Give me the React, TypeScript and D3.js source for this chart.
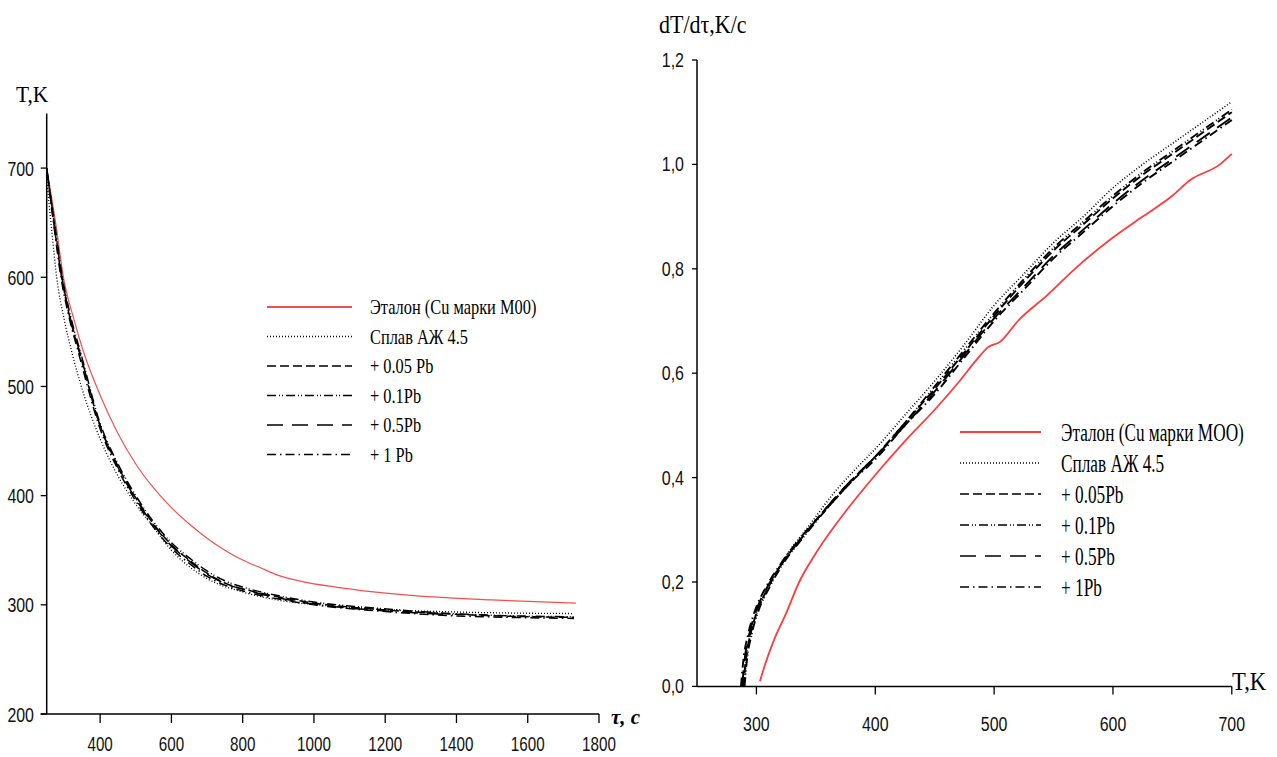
import React from "react";
import * as d3 from "d3";

const W = 1277;
const H = 757;

// ---------- Left chart: cooling curves T(τ) ----------
const tauTicks = [400, 600, 800, 1000, 1200, 1400, 1600, 1800];
const tempTicksLeft = [200, 300, 400, 500, 600, 700];

const coolEtalon: [number, number][] = [
  [250, 700], [275, 650], [297, 600], [325, 563], [353, 532], [400, 492], [450, 457], [500, 429],
  [550, 407], [600, 389], [650, 374], [700, 361], [750, 350], [800, 341], [850, 334], [900, 327],
  [958, 322], [1066, 316], [1282, 308.5], [1498, 304.5], [1735, 301.5],
];
const coolAlloy: [number, number][] = [
  [250, 690], [265, 640], [278, 600], [300, 560], [320, 532], [350, 497], [400, 452], [450, 418],
  [500, 392], [550, 371], [600, 350], [650, 335], [700, 324], [808, 311], [905, 304], [1013, 300],
  [1174, 296], [1390, 293.5], [1550, 292.5], [1730, 292],
];
const coolPb005: [number, number][] = [
  [250, 700], [270, 650], [292, 600], [315, 563], [343, 530], [400, 464], [450, 427], [500, 398],
  [550, 374], [600, 355], [650, 341], [700, 329], [750, 320], [808, 314], [905, 307], [1013, 301],
  [1174, 296], [1390, 291.5], [1550, 289.5], [1730, 288.5],
];
const coolPb01: [number, number][] = [
  [250, 698], [272, 650], [294, 600], [318, 563], [346, 530], [400, 466], [450, 429], [500, 400],
  [550, 376], [600, 357], [650, 343], [700, 331], [750, 322], [808, 315.5], [905, 308], [1013, 302],
  [1174, 297], [1390, 292], [1550, 290], [1730, 289],
];
const coolPb05: [number, number][] = [
  [250, 700], [271, 650], [293, 600], [316, 563], [344, 530], [400, 464], [450, 426], [500, 397],
  [550, 373], [600, 354], [650, 340], [700, 328], [750, 319.5], [808, 313.5], [905, 306], [1013, 300],
  [1174, 295], [1390, 291],
];
const coolPb1: [number, number][] = [
  [250, 697], [269, 650], [290, 600], [313, 563], [340, 530], [400, 461], [450, 424], [500, 395],
  [550, 371], [600, 352], [650, 338], [700, 326], [750, 318], [808, 312], [905, 305], [1013, 299.5],
  [1174, 294.5], [1390, 290], [1550, 288.5], [1730, 287.5],
];

// ---------- Right chart: dT/dτ vs T ----------
const tempTicksRight = [300, 400, 500, 600, 700];
const rateTicks = [0, 0.2, 0.4, 0.6, 0.8, 1.0, 1.2];

const rateEtalon: [number, number][] = [
  [303, 0.01], [307, 0.04], [315, 0.09], [325, 0.14], [336, 0.2], [350, 0.255], [375, 0.335],
  [400, 0.405], [425, 0.47], [450, 0.53], [471, 0.585], [485, 0.625], [495, 0.65], [505, 0.66],
  [520, 0.7], [545, 0.75], [568, 0.8], [600, 0.86], [625, 0.9], [650, 0.94], [665, 0.97],
  [690, 1.0], [700, 1.02],
];
const rateAlloy: [number, number][] = [
  [290, 0.01], [292, 0.06], [296, 0.11], [302, 0.15], [312, 0.2], [325, 0.25], [345, 0.31],
  [365, 0.37], [385, 0.42], [400, 0.455], [425, 0.52], [450, 0.585], [475, 0.655], [500, 0.73],
  [525, 0.79], [550, 0.85], [575, 0.9], [600, 0.955], [625, 1.0], [650, 1.04], [675, 1.08], [700, 1.12],
];
const ratePb005: [number, number][] = [
  [289, 0.0], [291, 0.05], [295, 0.1], [300, 0.14], [310, 0.19], [320, 0.23], [340, 0.29],
  [360, 0.345], [380, 0.395], [400, 0.44], [425, 0.505], [450, 0.57], [475, 0.64], [500, 0.71],
  [525, 0.775], [550, 0.835], [575, 0.885], [600, 0.935], [625, 0.98], [650, 1.02], [675, 1.06], [700, 1.1],
];
const ratePb01: [number, number][] = [
  [290, 0.0], [292, 0.05], [296, 0.1], [301, 0.14], [311, 0.19], [321, 0.23], [341, 0.29],
  [361, 0.345], [381, 0.395], [400, 0.44], [425, 0.505], [450, 0.575], [475, 0.645], [500, 0.715],
  [525, 0.78], [550, 0.84], [575, 0.89], [600, 0.94], [625, 0.985], [650, 1.025], [675, 1.065], [700, 1.105],
];
const ratePb05: [number, number][] = [
  [288, 0.0], [290, 0.05], [294, 0.1], [299, 0.14], [309, 0.19], [320, 0.23], [340, 0.29],
  [360, 0.345], [380, 0.395], [400, 0.44], [425, 0.5], [450, 0.565], [475, 0.635], [500, 0.705],
  [525, 0.765], [550, 0.825], [575, 0.875], [600, 0.925], [625, 0.97], [650, 1.01], [675, 1.05], [700, 1.09],
];
const ratePb1: [number, number][] = [
  [287, 0.0], [289, 0.05], [293, 0.1], [298, 0.14], [308, 0.19], [319, 0.23], [339, 0.29],
  [359, 0.34], [379, 0.39], [400, 0.435], [425, 0.5], [450, 0.56], [475, 0.63], [500, 0.7],
  [525, 0.76], [550, 0.82], [575, 0.87], [600, 0.92], [625, 0.965], [650, 1.005], [675, 1.045], [700, 1.085],
];

// ---------- Legends ----------
const legendLeft = [
  "Эталон (Cu марки М00)",
  "Сплав АЖ 4.5",
  "+ 0.05 Pb",
  "+ 0.1Pb",
  "+ 0.5Pb",
  "+ 1 Pb",
];
const legendRight = [
  "Эталон (Cu марки МОО)",
  "Сплав АЖ 4.5",
  "+ 0.05Pb",
  "+ 0.1Pb",
  "+ 0.5Pb",
  "+ 1Pb",
];

const styles = [
  { color: "#f25050", dash: "", width: 1.3 },
  { color: "#000", dash: "1,2", width: 1.3 },
  { color: "#000", dash: "9,4", width: 1.5 },
  { color: "#000", dash: "9,3,1,2,1,3", width: 1.5 },
  { color: "#000", dash: "16,9", width: 1.5 },
  { color: "#000", dash: "9,4,1.5,4", width: 1.5 },
];

const coolSeries = [coolEtalon, coolAlloy, coolPb005, coolPb01, coolPb05, coolPb1];
const rateSeries = [rateEtalon, rateAlloy, ratePb005, ratePb01, ratePb05, ratePb1];

const numFont = "'Liberation Sans', Arial, sans-serif";
const serif = "'Liberation Serif', 'Times New Roman', serif";

function fmtComma(v: number) {
  return v.toFixed(1).replace(".", ",");
}

export default function App() {
  const xL = d3.scaleLinear().domain([250, 1800]).range([46.7, 599]);
  const yL = d3.scaleLinear().domain([200, 750]).range([714, 113.5]);
  const xR = d3.scaleLinear().domain([250, 700]).range([697, 1231.8]);
  const yR = d3.scaleLinear().domain([0, 1.2]).range([686.4, 60]);

  const lineL = d3
    .line<[number, number]>()
    .x((d) => xL(d[0]))
    .y((d) => yL(d[1]))
    .curve(d3.curveMonotoneX);
  const lineR = d3
    .line<[number, number]>()
    .x((d) => xR(d[0]))
    .y((d) => yR(d[1]))
    .curve(d3.curveMonotoneX);

  const x0L = xL.range()[0];
  const y0L = yL.range()[0];
  const x0R = xR.range()[0];
  const y0R = yR.range()[0];

  return (
    <svg
      width={W}
      height={H}
      style={{ position: "absolute", left: 0, top: 0, background: "#fff" }}
    >
      <rect x={0} y={0} width={W} height={H} fill="#fff" />

      {/* ===== Left chart ===== */}
      <g>
        {coolSeries.map((s, i) => (
          <path
            key={i}
            d={lineL(s) || ""}
            fill="none"
            stroke={styles[i].color}
            strokeWidth={i === 0 ? 1.2 : styles[i].width}
            strokeDasharray={styles[i].dash}
          />
        ))}
        <line x1={x0L} y1={yL(750)} x2={x0L} y2={y0L} stroke="#000" strokeWidth={1.5} />
        <line x1={x0L - 6} y1={y0L} x2={xL(1800)} y2={y0L} stroke="#000" strokeWidth={1.5} />
        {tempTicksLeft.map((t) => (
          <g key={t}>
            <line x1={x0L - 6} x2={x0L} y1={yL(t)} y2={yL(t)} stroke="#000" strokeWidth={1.3} />
            <text
              transform={`translate(34,${yL(t) + 7.5}) scale(0.76,1)`}
              textAnchor="end"
              fontFamily={numFont}
              fontSize={21}
              fill="#111"
            >
              {t}
            </text>
          </g>
        ))}
        {tauTicks.map((t) => (
          <g key={t}>
            <line x1={xL(t)} x2={xL(t)} y1={y0L} y2={y0L + 9} stroke="#000" strokeWidth={1.3} />
            <text
              transform={`translate(${xL(t)},751) scale(0.76,1)`}
              textAnchor="middle"
              fontFamily={numFont}
              fontSize={20}
              fill="#111"
            >
              {t}
            </text>
          </g>
        ))}
        <text
          transform="translate(16,102) scale(0.93,1)"
          fontFamily={serif}
          fontSize={23}
          fill="#000"
        >
          T,K
        </text>
        <text
          x={611}
          y={724}
          fontFamily={serif}
          fontSize={21}
          fontWeight="bold"
          fontStyle="italic"
          fill="#000"
        >
          τ, c
        </text>

        {legendLeft.map((lab, i) => {
          const y = 307 + i * 29.5;
          return (
            <g key={lab}>
              <line
                x1={267}
                x2={352}
                y1={y}
                y2={y}
                stroke={styles[i].color}
                strokeWidth={i === 0 ? 1.8 : 1.5}
                strokeDasharray={styles[i].dash}
              />
              <text
                transform={`translate(370,${y + 7}) scale(0.78,1)`}
                fontFamily={serif}
                fontSize={21}
                fill="#000"
              >
                {lab}
              </text>
            </g>
          );
        })}
      </g>

      {/* ===== Right chart ===== */}
      <g>
        {rateSeries.map((s, i) => (
          <path
            key={i}
            d={lineR(s) || ""}
            fill="none"
            stroke={i === 0 ? "#ff3b3b" : styles[i].color}
            strokeWidth={i === 0 ? 1.8 : i === 1 ? 1.6 : 1.9}
            strokeDasharray={styles[i].dash}
          />
        ))}
        <line x1={x0R} y1={yR(1.2)} x2={x0R} y2={y0R} stroke="#000" strokeWidth={1.5} />
        <line x1={x0R} y1={y0R} x2={xR(700)} y2={y0R} stroke="#000" strokeWidth={1.5} />
        {rateTicks.map((t) => (
          <g key={t}>
            <line x1={x0R - 5} x2={x0R} y1={yR(t)} y2={yR(t)} stroke="#000" strokeWidth={1.3} />
            <text
              transform={`translate(684,${yR(t) + 7}) scale(0.8,1)`}
              textAnchor="end"
              fontFamily={numFont}
              fontSize={20}
              fill="#111"
            >
              {fmtComma(t)}
            </text>
          </g>
        ))}
        {tempTicksRight.map((t) => (
          <g key={t}>
            <line x1={xR(t)} x2={xR(t)} y1={y0R} y2={y0R + 8} stroke="#000" strokeWidth={1.3} />
            <text
              transform={`translate(${xR(t)},731) scale(0.76,1)`}
              textAnchor="middle"
              fontFamily={numFont}
              fontSize={21}
              fill="#111"
            >
              {t}
            </text>
          </g>
        ))}
        <text
          transform="translate(659,33) scale(0.88,1)"
          fontFamily={serif}
          fontSize={25}
          fill="#000"
        >
          dT/dτ,K/c
        </text>
        <text
          transform="translate(1232,690) scale(0.87,1)"
          fontFamily={serif}
          fontSize={26}
          fill="#000"
        >
          T,K
        </text>

        {legendRight.map((lab, i) => {
          const y = 432 + i * 31;
          return (
            <g key={lab}>
              <line
                x1={960}
                x2={1041}
                y1={y}
                y2={y}
                stroke={i === 0 ? "#ff3b3b" : styles[i].color}
                strokeWidth={i === 0 ? 2 : 1.6}
                strokeDasharray={styles[i].dash}
              />
              <text
                transform={`translate(1061,${y + 9}) scale(0.69,1)`}
                fontFamily={serif}
                fontSize={25}
                fill="#000"
              >
                {lab}
              </text>
            </g>
          );
        })}
      </g>
    </svg>
  );
}
